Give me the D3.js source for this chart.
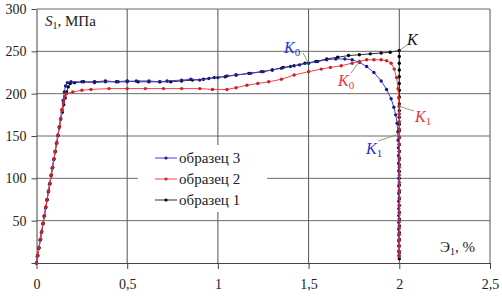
<!DOCTYPE html>
<html>
<head>
<meta charset="utf-8">
<script src="https://cdn.jsdelivr.net/npm/d3@7"></script>
<style>
  body { margin: 0; background: #fff; }
  svg { display: block; }
  text { font-family: "Liberation Serif", "Times New Roman", "DejaVu Serif", serif; }
</style>
</head>
<body>
<div id="chart"></div>
<script>
// strain, % (Э1) and stress, MPa (S1) for each specimen
const sample3 = [ // образец 3 (blue)
  [0,0],[0.005,8],[0.012,17],[0.02,27],[0.027,36],[0.035,46],[0.042,55],[0.05,65],[0.057,74],
  [0.065,84],[0.072,93],[0.08,103],[0.087,112],[0.095,122],[0.102,131],[0.11,141],[0.117,150],
  [0.125,160],[0.132,170],[0.14,181],[0.147,192],[0.153,202],[0.16,209],[0.17,213],[0.19,214],
  [0.25,214],[0.32,213],[0.38,214],[0.45,214],[0.5,214],[0.55,215],[0.62,215],[0.68,214],
  [0.72,215],[0.8,216],[0.85,217],[0.9,216],[0.95,218],[1.0,219],[1.05,221],[1.1,222],
  [1.18,224],[1.25,226],[1.3,228],[1.35,230],[1.4,232],[1.45,234],[1.5,236],[1.55,238],
  [1.6,240],[1.65,241],[1.7,241],[1.74,240],[1.78,237],[1.82,232],[1.86,225],[1.9,215],
  [1.93,205],[1.955,194],[1.97,184],[1.98,175],[1.988,165],[1.992,155],[1.994,145],
  [1.995,136],[1.996,127],[1.996,118],[1.997,109],[1.997,100],[1.997,91],[1.997,82],
  [1.997,73],[1.997,64],[1.997,56],[1.997,48],[1.997,40],[1.997,33],[1.997,26],[1.997,20],
  [1.997,14],[1.998,9]
];
const sample2 = [ // образец 2 (red)
  [0,0],[0.006,9],[0.013,18],[0.021,28],[0.028,37],[0.036,47],[0.043,56],[0.051,66],[0.058,75],
  [0.066,85],[0.073,94],[0.081,104],[0.088,113],[0.096,123],[0.103,132],[0.111,142],[0.118,151],
  [0.126,161],[0.133,170],[0.141,180],[0.148,189],[0.156,197],[0.165,200],[0.2,202],[0.25,204],
  [0.3,205],[0.4,206],[0.5,206],[0.6,206],[0.7,206],[0.8,206],[0.9,206],[0.97,205],[1.05,205],
  [1.1,207],[1.16,210],[1.22,212],[1.28,214],[1.35,217],[1.42,222],[1.5,226],[1.57,229],
  [1.62,231],[1.68,233],[1.74,236],[1.78,238],[1.82,240],[1.86,240],[1.9,240],[1.93,239],
  [1.955,236],[1.972,229],[1.985,219],[1.993,206],[1.997,195],[1.999,185],[2.0,176],[2.0,167],
  [2.0,158],[2.0,149],[2.0,140],[2.0,131],[2.0,122],[2.0,113],[2.0,104],[2.0,95],[2.0,86],
  [2.0,77],[2.0,68],[2.0,59],[2.0,50],[2.0,42],[2.0,34],[2.0,27],[2.0,20],[2.0,14],[2.0,8]
];
const sample1 = [ // образец 1 (black)
  [0,0],[0.007,9],[0.014,18],[0.022,28],[0.029,37],[0.037,47],[0.044,56],[0.052,66],[0.059,75],
  [0.067,85],[0.074,94],[0.082,104],[0.089,113],[0.097,123],[0.104,132],[0.112,142],[0.119,151],
  [0.127,161],[0.134,170],[0.142,178],[0.15,187],[0.158,195],[0.166,202],[0.175,208],[0.186,212],
  [0.21,213],[0.26,214],[0.32,214],[0.38,215],[0.44,214],[0.5,215],[0.56,214],[0.62,214],
  [0.68,214],[0.74,214],[0.8,215],[0.86,216],[0.92,217],[0.98,219],[1.04,220],[1.1,222],
  [1.17,224],[1.24,226],[1.3,228],[1.36,231],[1.42,233],[1.48,236],[1.54,238],[1.6,241],
  [1.66,243],[1.72,245],[1.78,246],[1.84,247],[1.9,248],[1.95,249],[2.0,251],[2.0,244],
  [2.0,236],[2.0,228],[2.0,220],[2.0,212],[2.0,204],[2.0,196],[2.0,188],[2.0,180],[2.0,172],
  [2.0,164],[2.0,156],[2.0,148],[2.0,140],[2.0,132],[2.0,124],[2.0,116],[2.0,108],[2.0,100],
  [2.0,92],[2.0,84],[2.0,76],[2.0,68],[2.0,60],[2.0,52],[2.0,44],[2.0,36],[2.0,28],[2.0,20],
  [2.0,12],[2.0,5]
];
const seriesNames = ["образец 3", "образец 2", "образец 1"];
const xTicks = [0, 0.5, 1, 1.5, 2, 2.5];
const yTicks = [50, 100, 150, 200, 250, 300];

const width = 502, height = 297,
      margin = ({top: 9, right: 12, bottom: 34, left: 36.5});
const serif = "'Liberation Serif', 'Times New Roman', 'DejaVu Serif', serif";

const series = [
  {name: seriesNames[0], data: sample3, line: "#4040d8", dot: "#1c1c8a"},
  {name: seriesNames[1], data: sample2, line: "#e84848", dot: "#d02020"},
  {name: seriesNames[2], data: sample1, line: "#333", dot: "#000"}
];

const svg = d3.select("#chart").append("svg")
  .attr("width", width).attr("height", height)
  .attr("viewBox", [0, 0, width, height])
  .attr("font-family", serif);

const x = d3.scaleLinear().domain([0, 2.5]).range([margin.left, width - margin.right]);
const y = d3.scaleLinear().domain([0, 300]).range([height - margin.bottom, margin.top]);

const fmt = d => String(d).replace(".", ",");

// grid
svg.append("g").selectAll("line").data(yTicks).join("line")
  .attr("x1", x(0)).attr("x2", x(2.5))
  .attr("y1", d => y(d)).attr("y2", d => y(d))
  .attr("stroke", "#6a6a6a").attr("stroke-width", 1);
svg.append("g").selectAll("line").data(xTicks.slice(1)).join("line")
  .attr("x1", d => x(d)).attr("x2", d => x(d))
  .attr("y1", y(0)).attr("y2", y(300))
  .attr("stroke", "#555").attr("stroke-width", 1);

// axes
svg.append("g")
  .attr("transform", `translate(0,${y(0)})`)
  .call(d3.axisBottom(x).tickValues(xTicks).tickFormat(fmt).tickSize(6).tickSizeOuter(0).tickPadding(10))
  .attr("font-family", serif).attr("font-size", 14)
  .call(g => g.selectAll("text").attr("fill", "#222"))
  .call(g => g.selectAll("line, path").attr("stroke", "#444"));
svg.append("g")
  .attr("transform", `translate(${x(0)},0)`)
  .call(d3.axisLeft(y).tickValues([0].concat(yTicks)).tickFormat(d => d === 0 ? "" : d).tickSize(5).tickSizeOuter(0).tickPadding(5))
  .attr("font-family", serif).attr("font-size", 14)
  .call(g => g.selectAll("text").attr("fill", "#222"))
  .call(g => g.selectAll("line, path").attr("stroke", "#444"));

// legend background hides the grid behind it
svg.append("rect")
  .attr("x", 138).attr("y", 145).attr("width", 129).attr("height", 67)
  .attr("fill", "#fff");

const line = d3.line().x(d => x(d[0])).y(d => y(d[1]));

// draw black first, red on top
for (const s of [series[2], series[0], series[1]]) {
  svg.append("path").datum(s.data)
    .attr("d", line).attr("fill", "none")
    .attr("stroke", s.line).attr("stroke-width", 1);
  svg.append("g").selectAll("circle").data(s.data).join("circle")
    .attr("cx", d => x(d[0])).attr("cy", d => y(d[1])).attr("r", 1.7)
    .attr("fill", s.dot);
}

// legend
const leg = svg.append("g").selectAll("g").data(series).join("g")
  .attr("transform", (d, i) => `translate(155,${158 + i * 21})`);
leg.append("line").attr("x1", 0).attr("x2", 22)
  .attr("stroke", d => d.line).attr("stroke-width", 1);
leg.append("circle").attr("cx", 11).attr("r", 1.6).attr("fill", d => d.dot);
leg.append("text").attr("x", 24).attr("dy", "0.32em")
  .attr("font-family", serif).attr("font-size", 15).attr("fill", "#222").text(d => d.name);

// axis titles
const sTitle = svg.append("text").attr("x", 45).attr("y", 26)
  .attr("font-family", serif).attr("font-size", 15).attr("fill", "#222");
sTitle.append("tspan").attr("font-style", "italic").text("S");
sTitle.append("tspan").attr("font-size", 10).attr("dy", 3).text("1");
sTitle.append("tspan").attr("dy", -3).text(", МПа");

const eTitle = svg.append("text").attr("x", 440).attr("y", 252)
  .attr("font-family", serif).attr("font-size", 15).attr("fill", "#222");
eTitle.append("tspan").text("Э");
eTitle.append("tspan").attr("font-size", 10).attr("dy", 3).text("1");
eTitle.append("tspan").attr("dy", -3).text(", %");

// point labels K
const kLabels = [
  {sub: "0", at: [1.5, 236], tx: 284, ty: 53, lx: 303, ly: 53, color: "#3030c8"},
  {sub: "0", at: [1.78, 238], tx: 338, ty: 86, lx: 351, ly: 73, color: "#e03a3a"},
  {sub: "",  at: [2.0, 251], tx: 407, ty: 45, lx: 407, ly: 45, color: "#111"},
  {sub: "1", at: [2.0, 185], tx: 415, ty: 122, lx: 414, ly: 111, color: "#e03a3a"},
  {sub: "1", at: [1.994, 152], tx: 366, ty: 154, lx: 378, ly: 141, color: "#3030c8"}
];
for (const k of kLabels) {
  svg.append("line")
    .attr("x1", k.lx).attr("y1", k.ly)
    .attr("x2", x(k.at[0])).attr("y2", y(k.at[1]))
    .attr("stroke", "#6d8a5a").attr("stroke-width", 0.8);
  const t = svg.append("text").attr("x", k.tx).attr("y", k.ty)
    .attr("font-family", serif).attr("font-size", 16).attr("font-style", "italic").attr("fill", k.color);
  t.append("tspan").text("K");
  if (k.sub) t.append("tspan").attr("font-size", 11).attr("dy", 3).attr("font-style", "normal").text(k.sub);
}
</script>
</body>
</html>
